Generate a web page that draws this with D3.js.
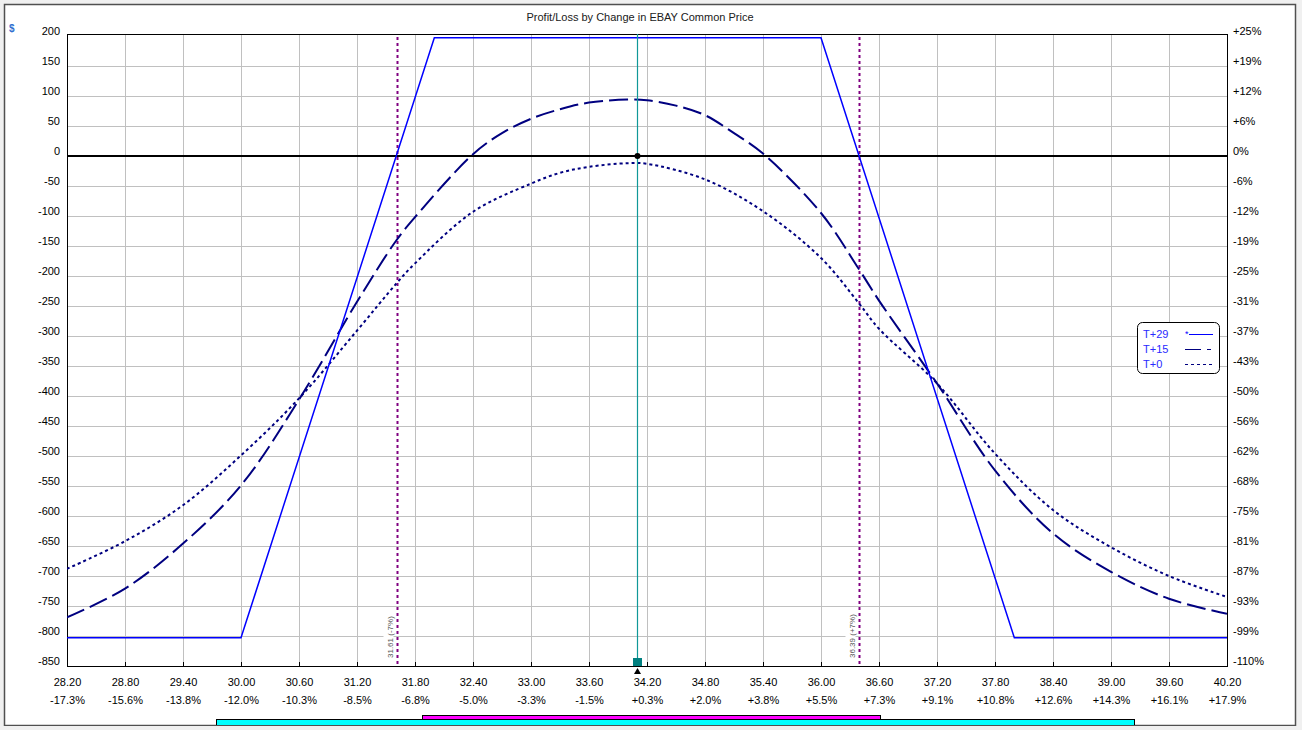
<!DOCTYPE html>
<html>
<head>
<meta charset="utf-8">
<script src="https://cdn.jsdelivr.net/npm/d3@7"></script>
<style>
  body { margin: 0; background: #f0f0f0; }
  text { font-family: "Liberation Sans", Arial, sans-serif; }
</style>
</head>
<body>
<div id="chart"></div>
<script>
/** Chart values **/
var xTicks = [28.2, 28.8, 29.4, 30.0, 30.6, 31.2, 31.8, 32.4, 33.0, 33.6, 34.2, 34.8, 35.4, 36.0, 36.6, 37.2, 37.8, 38.4, 39.0, 39.6, 40.2];
var xPctLabels = ["-17.3%", "-15.6%", "-13.8%", "-12.0%", "-10.3%", "-8.5%", "-6.8%", "-5.0%", "-3.3%", "-1.5%", "+0.3%",
                  "+2.0%", "+3.8%", "+5.5%", "+7.3%", "+9.1%", "+10.8%", "+12.6%", "+14.3%", "+16.1%", "+17.9%"];
var yTicks = [200, 150, 100, 50, 0, -50, -100, -150, -200, -250, -300, -350, -400, -450, -500, -550, -600, -650, -700, -750, -800, -850];
var yPctLabels = ["+25%", "+19%", "+12%", "+6%", "0%", "-6%", "-12%", "-19%", "-25%", "-31%", "-37%", "-43%", "-50%",
                  "-56%", "-62%", "-68%", "-75%", "-81%", "-87%", "-93%", "-99%", "-110%"];

var seriesNames = ["T+29", "T+15", "T+0"];

var t29Prices = [28.2, 30.0, 32.0, 36.0, 38.0, 40.2];
var t29Values = [-803, -803, 197, 197, -803, -803];

var t15Prices = [28.2, 28.8, 29.4, 30.0, 30.6, 31.2, 31.61, 31.8, 32.4, 32.7, 33.0, 33.3, 33.6, 34.0, 34.2, 34.5, 34.8, 35.1, 35.4, 36.0, 36.39, 36.6, 37.2, 37.8, 38.4, 39.0, 39.6, 40.2];
var t15Values = [-769, -721, -646, -549, -406, -243, -140, -102, 3, 38, 62, 78, 89, 94, 93, 84, 68, 38, 4, -95, -188, -241, -379, -524, -629, -693, -738, -763];

var t0Prices = [28.2, 28.8, 29.4, 30.0, 30.6, 31.2, 31.61, 31.8, 32.4, 33.0, 33.3, 33.6, 34.0, 34.2, 34.8, 35.4, 36.0, 36.39, 36.6, 37.2, 37.8, 38.4, 39.0, 39.6, 40.2];
var t0Values = [-688, -642, -582, -499, -404, -291, -212, -179, -93, -46, -28, -18, -12, -13, -39, -92, -170, -245, -288, -379, -496, -590, -652, -700, -735];

var currentPrice = 34.1;
var breakevens = [31.61, 36.39];
var breakevenLabels = ["31.61 (-7%)", "36.39 (+7%)"];

/** Layout **/
var W = 1302, H = 730;
var plotL = 67, plotR = 1227, plotT = 34, plotB = 666;

var svg = d3.select("#chart").append("svg")
    .attr("width", W)
    .attr("height", H);

/** Window panel **/
svg.append("rect")
    .attr("x", 4.5).attr("y", 4.5)
    .attr("width", 1291).attr("height", 721)
    .style("fill", "white")
    .style("stroke", "#505050")
    .style("stroke-width", 1.5);

var x = d3.scaleLinear().domain([28.2, 40.2]).range([plotL, plotR]);
var y = d3.scaleLinear().domain([-850, 200]).range([plotB, 36]);

function px(v) { return Math.round(v) + 0.5; }

/** Title **/
svg.append("text")
    .text("Profit/Loss by Change in EBAY Common Price")
    .attr("x", 640).attr("y", 21)
    .attr("text-anchor", "middle")
    .attr("font-size", 11)
    .style("fill", "#202020");

svg.append("text")
    .text("$")
    .attr("x", 9).attr("y", 32)
    .attr("font-size", 10)
    .attr("font-weight", "bold")
    .style("fill", "#2f6fcf");

/** Grid **/
var grid = svg.append("g");
grid.selectAll(".vgrid").data(xTicks).enter().append("line")
    .attr("x1", function(d) { return px(x(d)); })
    .attr("x2", function(d) { return px(x(d)); })
    .attr("y1", plotT).attr("y2", plotB)
    .style("stroke", "#c0c0c0");
grid.selectAll(".hgrid").data(yTicks.filter(function(d) { return d < 200 && d > -850; })).enter().append("line")
    .attr("x1", plotL).attr("x2", plotR)
    .attr("y1", function(d) { return px(y(d)); })
    .attr("y2", function(d) { return px(y(d)); })
    .style("stroke", "#c0c0c0");

/** Axes **/
var yAxisL = d3.axisLeft(y).tickValues(yTicks).tickSize(0).tickPadding(7)
    .tickFormat(function(d) { return String(d); });
var gl = svg.append("g").attr("transform", "translate(" + plotL + ",0)").call(yAxisL);
var yAxisR = d3.axisRight(y).tickValues(yTicks).tickSize(0).tickPadding(6)
    .tickFormat(function(d, i) { return yPctLabels[i]; });
var gr = svg.append("g").attr("transform", "translate(" + plotR + ",0)").call(yAxisR);
var xAxis = d3.axisBottom(x).tickValues(xTicks).tickSize(0).tickPadding(12)
    .tickFormat(function(d) { return d.toFixed(2); });
var gb = svg.append("g").attr("transform", "translate(0," + plotB + ")").call(xAxis);
var xAxis2 = d3.axisBottom(x).tickValues(xTicks).tickSize(0).tickPadding(30)
    .tickFormat(function(d, i) { return xPctLabels[i]; });
var gb2 = svg.append("g").attr("transform", "translate(0," + plotB + ")").call(xAxis2);

[gl, gr, gb, gb2].forEach(function(g) {
    g.select(".domain").remove();
    g.selectAll("text")
        .attr("font-size", 11)
        .style("font-family", "'Liberation Sans', Arial, sans-serif")
        .style("fill", "#000");
});
gl.selectAll("text").attr("dy", "-0.15em");
gr.selectAll("text").attr("dy", "-0.15em");

/** Tick marks on bottom axis **/
svg.append("g").selectAll("line").data(xTicks).enter().append("line")
    .attr("x1", function(d) { return px(x(d)); })
    .attr("x2", function(d) { return px(x(d)); })
    .attr("y1", plotB - 4).attr("y2", plotB)
    .style("stroke", "black");

/** Frame **/
svg.append("rect")
    .attr("x", plotL + 0.5).attr("y", plotT + 0.5)
    .attr("width", plotR - plotL).attr("height", plotB - plotT)
    .style("fill", "none")
    .style("stroke", "black");

/** Zero line **/
svg.append("line")
    .attr("x1", plotL).attr("x2", plotR)
    .attr("y1", y(0)).attr("y2", y(0))
    .style("stroke", "black")
    .style("stroke-width", 2);

/** Clip for curves **/
svg.append("clipPath").attr("id", "plotclip")
    .append("rect")
    .attr("x", plotL).attr("y", plotT)
    .attr("width", plotR - plotL).attr("height", plotB - plotT);

/** Breakeven lines **/
breakevens.forEach(function(b, i) {
    var bx = px(x(b));
    svg.append("line")
        .attr("x1", bx).attr("x2", bx)
        .attr("y1", plotT + 3).attr("y2", plotB)
        .style("stroke", "#800080")
        .style("stroke-width", 2)
        .style("stroke-dasharray", "3,3");
    svg.append("rect")
        .attr("x", bx - 14).attr("y", 615)
        .attr("width", 10).attr("height", 44)
        .style("fill", "white");
    svg.append("text")
        .text(breakevenLabels[i])
        .attr("transform", "translate(" + (bx - 5) + ",658) rotate(-90)")
        .attr("font-size", 8)
        .style("fill", "#555");
});

/** Curves **/
var curves = svg.append("g").attr("clip-path", "url(#plotclip)");

var lineSharp = d3.line()
    .x(function(d) { return x(d[0]); })
    .y(function(d) { return y(d[1]); });
var lineSmooth = d3.line()
    .curve(d3.curveCatmullRom.alpha(0.5))
    .x(function(d) { return x(d[0]); })
    .y(function(d) { return y(d[1]); });

var t29 = d3.zip(t29Prices, t29Values);
var t15 = d3.zip(t15Prices, t15Values);
var t0 = d3.zip(t0Prices, t0Values);

curves.append("path")
    .attr("d", lineSmooth(t0))
    .style("fill", "none")
    .style("stroke", "#000080")
    .style("stroke-width", 2)
    .style("stroke-dasharray", "3,3");

curves.append("path")
    .attr("d", lineSmooth(t15))
    .style("fill", "none")
    .style("stroke", "#000080")
    .style("stroke-width", 2)
    .style("stroke-dasharray", "19,6");

curves.append("path")
    .attr("d", lineSharp(t29))
    .style("fill", "none")
    .style("stroke", "#0000ff")
    .style("stroke-width", 1.5);

/** Current price marker **/
var cx = px(x(currentPrice));
svg.append("line")
    .attr("x1", cx).attr("x2", cx)
    .attr("y1", plotT).attr("y2", plotB)
    .style("stroke", "#109898")
    .style("stroke-width", 1.2);
svg.append("rect")
    .attr("x", cx - 4.5).attr("y", plotB - 8)
    .attr("width", 9).attr("height", 8)
    .style("fill", "#008080");
svg.append("path")
    .attr("d", "M" + cx + "," + (plotB + 2) + "L" + (cx + 3.5) + "," + (plotB + 8) + "L" + (cx - 3.5) + "," + (plotB + 8) + "Z")
    .style("fill", "black");
svg.append("circle")
    .attr("cx", cx).attr("cy", y(0))
    .attr("r", 3)
    .style("fill", "black");

/** Legend **/
var lg = svg.append("g");
lg.append("rect")
    .attr("x", 1137.5).attr("y", 322.5)
    .attr("width", 82).attr("height", 51)
    .attr("rx", 5).attr("ry", 5)
    .style("fill", "white")
    .style("stroke", "black");
var legendStyles = [
    { color: "#0000ff", dash: null },
    { color: "#000080", dash: "16,6,4,20" },
    { color: "#000080", dash: "3,3" }
];
seriesNames.forEach(function(name, i) {
    var ly = 334 + i * 15;
    lg.append("text")
        .text(name)
        .attr("x", 1143).attr("y", ly + 4)
        .attr("font-size", 11)
        .style("fill", "#2a2aff");
    var l = lg.append("line")
        .attr("x1", 1185).attr("x2", 1213)
        .attr("y1", ly + 0.5).attr("y2", ly + 0.5)
        .style("stroke", legendStyles[i].color);
    if (legendStyles[i].dash) l.style("stroke-dasharray", legendStyles[i].dash);
    if (i === 0) {
        l.attr("x1", 1189);
        lg.append("text").text("*")
            .attr("x", 1185).attr("y", ly + 3)
            .attr("font-size", 9)
            .style("fill", "#0000ff");
    }
});

/** Scroll bars at the bottom **/
svg.append("rect")
    .attr("x", 216.5).attr("y", 719.5)
    .attr("width", 918).attr("height", 6)
    .style("fill", "#00ffff")
    .style("stroke", "black");
svg.append("rect")
    .attr("x", 422.5).attr("y", 715.5)
    .attr("width", 458).attr("height", 4)
    .style("fill", "#ff00ff")
    .style("stroke", "black");
svg.append("rect")
    .attr("x", 0).attr("y", 726)
    .attr("width", W).attr("height", 4)
    .style("fill", "#f0f0f0");
svg.append("line")
    .attr("x1", 4).attr("x2", 1296)
    .attr("y1", 725.5).attr("y2", 725.5)
    .style("stroke", "#505050");
</script>
</body>
</html>
